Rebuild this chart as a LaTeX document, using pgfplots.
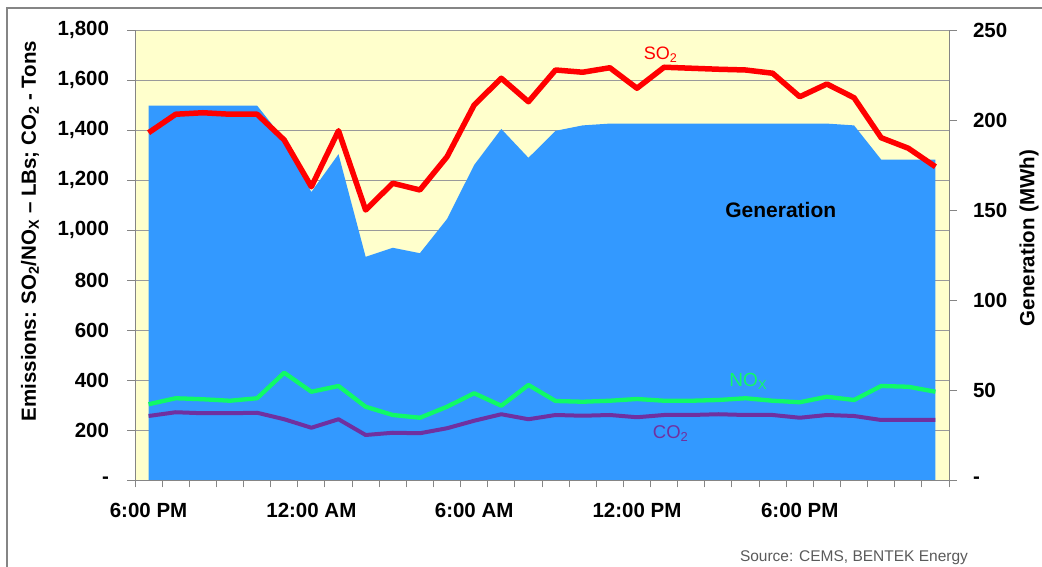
\documentclass[border=0pt]{standalone}
\usepackage{fontspec}
\setmainfont{Liberation Sans}
\usepackage{pgfplots}
\pgfplotsset{compat=1.18}
\usepackage{pgfplotstable}

\definecolor{bgyellow}{HTML}{FFFFCC}
\definecolor{genblue}{HTML}{3399FF}
\definecolor{so2red}{HTML}{FF0000}
\definecolor{noxgreen}{HTML}{10FA66}
\definecolor{co2purple}{HTML}{7030A0}
\definecolor{gridgray}{HTML}{9A9A9A}
\definecolor{axisgray}{HTML}{858585}
\definecolor{srcgray}{HTML}{5A5A5A}

% hourly values from 6:00 PM onwards
\pgfplotstableread{
hr so2  nox co2 gen
0  1389 303 256 208
1  1463 327 271 208
2  1469 323 267 208
3  1463 317 267 208
4  1463 327 269 208
5  1360 429 243 189
6  1173 353 209 160
7  1397 376 243 181
8  1080 293 180 124
9  1187 260 189 129
10 1160 249 187 126
11 1293 293 207 145
12 1500 347 237 175
13 1607 297 263 195
14 1513 380 243 179
15 1640 316 260 194
16 1631 313 257 197
17 1649 317 260 198
18 1567 324 251 198
19 1651 317 260 198
20 1647 317 260 198
21 1643 320 263 198
22 1640 327 260 198
23 1627 317 260 198
24 1533 311 249 198
25 1584 333 260 198
26 1529 320 256 197
27 1369 376 240 178
28 1327 373 240 178
29 1253 353 240 178
}\hourly

\newcommand{\tickfont}{\fontsize{20.5}{22}\selectfont\bfseries}

\begin{document}
\begin{tikzpicture}[x=1pt,y=1pt]
\useasboundingbox (0,0) rectangle (1042,567);

% chart frame
\draw[axisgray, line width=1.5pt] (7,-20) -- (7,559) -- (1080,559);

\pgfplotsset{
  panel/.style={
    at={(135pt,87pt)}, anchor=south west,
    scale only axis, width=814pt, height=450pt,
    xmin=-0.5, xmax=29.5,
    axis line style={draw=axisgray, line width=0.9pt},
    tick style={draw=axisgray, line width=0.9pt},
    tick align=outside, major tick length=7.5pt,
    tick label style={font=\tickfont, text=black},
    /pgf/number format/assume math mode=true,
  },
}

% emissions scale: background, grid and left axis
\begin{axis}[panel,
  ymin=0, ymax=1800,
  axis x line=none, axis y line*=left,
  axis background/.style={fill=bgyellow},
  ytick={0,200,...,1800},
  yticklabels={-\hspace{0.55em},200,400,600,800,{1,000},{1,200},{1,400},{1,600},{1,800}},
  ymajorgrids, grid style={draw=gridgray, line width=0.9pt},
  yticklabel style={xshift=-15pt},
]
\end{axis}

% generation scale: area, right axis and time axis
\begin{axis}[panel,
  ymin=0, ymax=250,
  axis on top,
  axis y line*=right, axis x line*=bottom,
  ytick={0,50,...,250},
  yticklabels={-,50,100,150,200,250},
  yticklabel style={xshift=13pt},
  xtick={-0.5,0.5,...,29.5}, xticklabels={},
  extra x ticks={0,6,12,18,24},
  extra x tick labels={6:00 PM,12:00 AM,6:00 AM,12:00 PM,6:00 PM},
  extra x tick style={major tick length=0pt, xticklabel style={yshift=-20pt}},
]
\addplot[fill=genblue, draw=none] table[x=hr, y=gen] {\hourly} \closedcycle;
\end{axis}

% emission series
\begin{axis}[panel, ymin=0, ymax=1800, hide axis, clip=false]
\addplot[co2purple, line width=4pt, line join=round] table[x=hr, y=co2] {\hourly};
\addplot[noxgreen, line width=4.3pt, line join=round] table[x=hr, y=nox] {\hourly};
\addplot[so2red, line width=5.5pt, line join=round] table[x=hr, y=so2] {\hourly};
\node[so2red, font=\fontsize{18}{20}\selectfont] at (axis cs:18.87,1700) {SO\textsubscript{2}};
\node[noxgreen, font=\fontsize{19}{21}\selectfont] at (axis cs:22.1,396) {NO\textsubscript{X}};
\node[co2purple, font=\fontsize{18.5}{20}\selectfont] at (axis cs:19.24,184) {CO\textsubscript{2}};
\node[black, font=\fontsize{21}{23}\selectfont\bfseries] at (axis cs:23.3,1080) {Generation};
\end{axis}

% axis titles and source
\node[rotate=90, font=\fontsize{20.5}{22}\selectfont\bfseries] at (30,336)
  {Emissions: SO\textsubscript{2}/NO\textsubscript{X} -- LBs; CO\textsubscript{2} - Tons};
\node[rotate=90, font=\fontsize{20.5}{22}\selectfont\bfseries] at (1029,329)
  {Generation (MWh)};
\node[srcgray, font=\fontsize{15.5}{17}\selectfont] at (854,9)
  {Source: CEMS, BENTEK Energy};
\end{tikzpicture}
\end{document}
